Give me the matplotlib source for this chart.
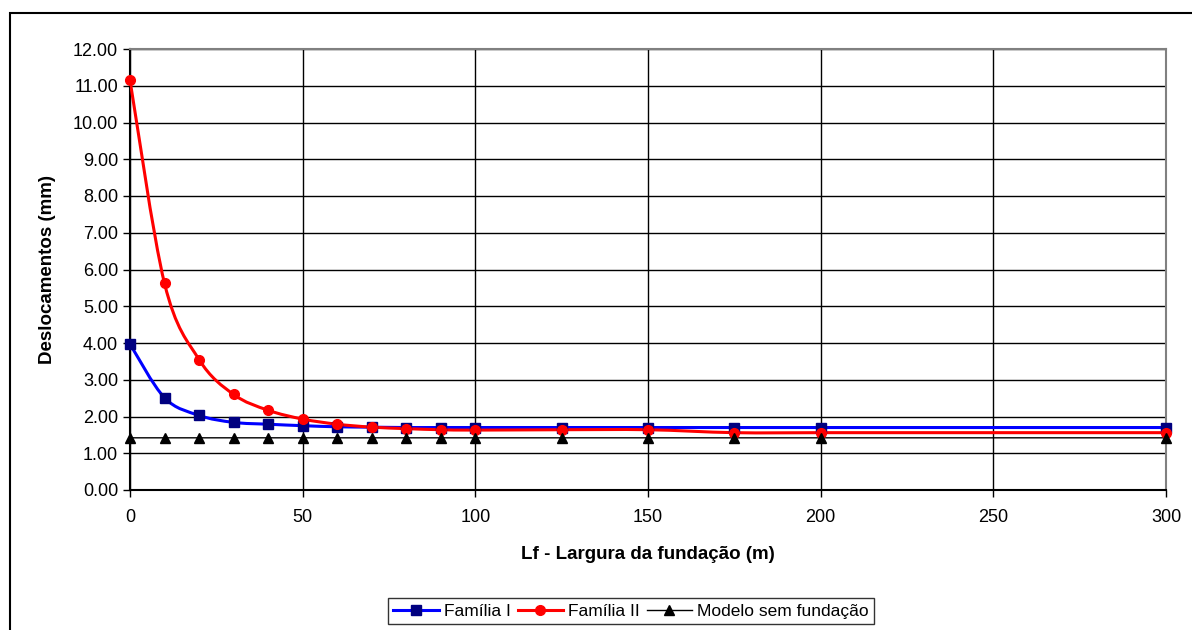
import matplotlib

matplotlib.use("agg")
from matplotlib import pyplot as plt
from matplotlib.path import Path
from matplotlib.patches import PathPatch, Rectangle
from matplotlib.lines import Line2D

plt.rcParams["font.family"] = ["Liberation Sans", "DejaVu Sans"]

# data
largura = [0, 10, 20, 30, 40, 50, 60, 70, 80, 90, 100, 125, 150, 175, 200, 300]
familia_1 = [3.97, 2.51, 2.03, 1.84, 1.79, 1.75, 1.72, 1.71, 1.70, 1.70, 1.70,
             1.70, 1.70, 1.70, 1.70, 1.70]
familia_2 = [11.15, 5.62, 3.55, 2.60, 2.17, 1.93, 1.79, 1.71, 1.67, 1.64, 1.63,
             1.64, 1.64, 1.56, 1.56, 1.56]
sem_fundacao = [1.42] * len(largura)

x_ticks = [0, 50, 100, 150, 200, 250, 300]
y_ticks = list(range(0, 13))


def smooth_path(x, y):
    # Excel-like smoothed line: cubic bezier through each point
    n = len(x)
    verts = [(x[0], y[0])]
    codes = [Path.MOVETO]
    for i in range(n - 1):
        a = i - 1 if i > 0 else i
        d = i + 2 if i + 2 < n else i + 1
        c1 = (x[i] + (x[i + 1] - x[a]) / 6, y[i] + (y[i + 1] - y[a]) / 6)
        c2 = (x[i + 1] - (x[d] - x[i]) / 6, y[i + 1] - (y[d] - y[i]) / 6)
        verts += [c1, c2, (x[i + 1], y[i + 1])]
        codes += [Path.CURVE4] * 3
    return Path(verts, codes)


fig = plt.figure(figsize=(11.92, 6.30), dpi=100)
fig.patches.append(Rectangle((10 / 1192, -0.05), 1.1, 1 - 13 / 630 + 0.05,
                             transform=fig.transFigure, fill=False,
                             edgecolor="black", lw=1.5))

ax = fig.add_axes([130 / 1192, 1 - 490 / 630, 1036 / 1192, 441 / 630])

series = [
    (familia_1, "#0000FF", "s", "#000080", 6.5, 2.2, "Família I"),
    (familia_2, "#FF0000", "o", "#FF0000", 7, 2.2, "Família II"),
    (sem_fundacao, "black", "^", "black", 7.5, 1.0, "Modelo sem fundação"),
]
handles = []
for vals, col, mk, mcol, ms, lw, lab in series:
    ax.add_patch(PathPatch(smooth_path(largura, vals), facecolor="none",
                           edgecolor=col, lw=lw, zorder=3))
    ax.plot(largura, vals, linestyle="none", marker=mk, ms=ms, color=mcol,
            zorder=4, clip_on=False)
    handles.append(Line2D([], [], color=col, lw=lw, marker=mk, ms=ms,
                          markerfacecolor=mcol, markeredgecolor=mcol, label=lab))

ax.set_xlim(0, 300)
ax.set_ylim(0, 12)
ax.set_xticks(x_ticks)
ax.set_yticks(y_ticks)
ax.set_yticklabels(["%.2f" % v for v in y_ticks])
ax.grid(True, color="black", lw=1.0, zorder=0)
ax.set_axisbelow(True)
ax.tick_params(direction="out", length=5, width=1, labelsize=13, colors="black")
ax.tick_params(axis="x", pad=9)
for s in ("top", "right"):
    ax.spines[s].set_color("#808080")
    ax.spines[s].set_linewidth(1.5)
for s in ("left", "bottom"):
    ax.spines[s].set_linewidth(1.5)

ax.set_ylabel("Deslocamentos (mm)", fontsize=13.5, fontweight="bold", labelpad=12)
ax.set_xlabel("Lf - Largura da fundação (m)", fontsize=13.5, fontweight="bold",
              labelpad=14)

lgnd = fig.legend(handles=handles, loc="center", bbox_to_anchor=(631 / 1192, 1 - 611 / 630),
                  ncol=3, fontsize=12.5, frameon=True, fancybox=False, edgecolor="black",
                  handlelength=2.6, columnspacing=0.4, handletextpad=0.3,
                  borderpad=0.3, borderaxespad=0)
lgnd.get_frame().set_linewidth(1.0)

fig.savefig("out.png", dpi=100)
